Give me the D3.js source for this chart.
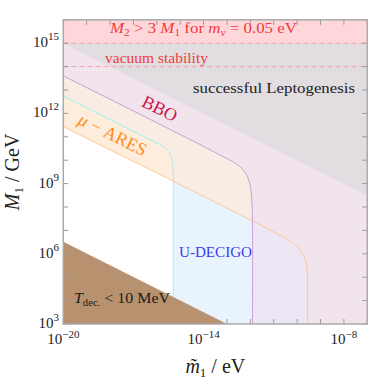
<!DOCTYPE html>
<html><head><meta charset="utf-8">
<script src="https://cdn.jsdelivr.net/npm/d3@7"></script>
<style>
html,body{margin:0;padding:0;background:#fff;}
svg{display:block;font-family:"Liberation Serif","Times New Roman",serif;}
</style></head>
<body><svg id="c" width="374" height="382"></svg>
<script>
// ---- data ----
const xDomain = [1e-20, 1e-7];
const yDomain = [1e3, 1e16];
const xTickLabels = [{v:1e-20, e:"−20"}, {v:1e-14, e:"−14"}, {v:1e-8, e:"−8"}];
const yTickLabels = [{v:1e3, e:"3"}, {v:1e6, e:"6"}, {v:1e9, e:"9"}, {v:1e12, e:"12"}, {v:1e15, e:"15"}];

// detector sensitivity boundaries: m1tilde [eV], M1 [GeV]
const bboM     = [1e-20, 6.9e-15, 8.1e-14, 2.95e-13, 6.5e-13, 9.5e-13, 1.15e-12, 1.23e-12, 1.23e-12];
const bboMass  = [4.0e13, 4.7e10, 1.3e10, 6.2e9, 2.6e9, 9.5e8, 2.0e8, 1.05e7, 1e3];
const aresM    = [1e-20, 6.8e-12, 6.6e-11, 1.45e-10, 2.25e-10, 2.7e-10, 2.75e-10, 2.75e-10];
const aresMass = [2.7e11, 1.05e7, 2.9e6, 1.3e6, 5.5e5, 1.65e5, 2.8e4, 1e3];
const udM      = [1e-20, 5.0e-17, 1.66e-16, 3.2e-16, 4.5e-16, 5.0e-16, 5.0e-16, 5.0e-16];
const udMass   = [5.5e12, 7.6e10, 4.1e10, 2.35e10, 1.0e10, 3.2e9, 2e8, 1e3];
// successful leptogenesis lower edge
const leptoM    = [1e-20, 1e-7];
const leptoMass = [1e15, 3.2e8];
// T_dec < 10 MeV upper edge
const tdecM    = [1e-20, 1e-13];
const tdecMass = [3.3e6, 1e3];
// horizontal limits
const m2Limit = 1e15;      // M2 > 3 M1
const vacLimit = 1e14;     // vacuum stability

// ---- layout ----
const svg = d3.select("#c");
const L = 63.3, R = 367.3, T = 19.8, B = 324;
const x = d3.scaleLog().domain(xDomain).range([L, R]);
const y = d3.scaleLog().domain(yDomain).range([B, T]);

const defs = svg.append("defs");
defs.append("clipPath").attr("id","plot").append("rect")
  .attr("x",L).attr("y",T).attr("width",R-L).attr("height",B-T);

const curveLine = d3.line().x(d=>x(d[0])).y(d=>y(d[1])).curve(d3.curveCatmullRom.alpha(0.5));
const straight = d3.line().x(d=>x(d[0])).y(d=>y(d[1]));
const zip = (a,b)=>a.map((v,i)=>[v,b[i]]);

function regionUpperRight(pts){
  return curveLine(pts) + "L" + x(xDomain[1]) + "," + y(yDomain[0]) +
    "L" + x(xDomain[1]) + "," + y(yDomain[1]) + "L" + x(xDomain[0]) + "," + y(yDomain[1]) + "Z";
}
const bboPts = zip(bboM, bboMass), aresPts = zip(aresM, aresMass), udPts = zip(udM, udMass);
const regU = regionUpperRight(udPts), regA = regionUpperRight(aresPts), regB = regionUpperRight(bboPts);
defs.append("clipPath").attr("id","clipU").append("path").attr("d", regU);
defs.append("clipPath").attr("id","clipA").append("path").attr("d", regA);

const g = svg.append("g").attr("clip-path","url(#plot)");
g.append("path").attr("d", regU).attr("fill","#e8f3fe");
g.append("path").attr("d", regA).attr("fill","#feeddd");
g.append("g").attr("clip-path","url(#clipU)").append("path").attr("d", regA).attr("fill","#f8ede4");
g.append("path").attr("d", regB).attr("fill","#ede6f4");
g.append("g").attr("clip-path","url(#clipA)").append("path").attr("d", regB).attr("fill","#f2e4ec");

const lp = zip(leptoM, leptoMass);
g.append("path").attr("d", straight(lp) + "L" + x(xDomain[1]) + "," + y(yDomain[1]) + "L" + x(xDomain[0]) + "," + y(yDomain[1]) + "Z")
  .attr("fill","#e1dde0");

g.append("path").attr("d", curveLine(udPts)).attr("fill","none").attr("stroke","#a6ece6").attr("stroke-width",1);
g.append("path").attr("d", curveLine(aresPts)).attr("fill","none").attr("stroke","#fcc99a").attr("stroke-width",1);
g.append("path").attr("d", curveLine(bboPts)).attr("fill","none").attr("stroke","#c9a0d2").attr("stroke-width",1);

const tp = zip(tdecM, tdecMass);
g.append("path").attr("d", straight(tp) + "L" + x(xDomain[0]) + "," + y(yDomain[0]) + "Z").attr("fill","#b8916f");

g.append("rect").attr("x",L).attr("y",y(yDomain[1])).attr("width",R-L).attr("height",y(m2Limit)-y(yDomain[1])).attr("fill","#ffd6d9");
[m2Limit, vacLimit].forEach(v=>{
  g.append("line").attr("x1",L).attr("x2",R).attr("y1",y(v)).attr("y2",y(v))
   .attr("stroke","#f2a2aa").attr("stroke-width",1).attr("stroke-dasharray","5,3");
});

// frame & ticks
const decX = d3.range(-20,-6).map(e=>Math.pow(10,e));
const decY = d3.range(3,17).map(e=>Math.pow(10,e));
const tk = 5, tc = "#9a9a9a";
decX.forEach(v=>{
  svg.append("line").attr("x1",x(v)).attr("x2",x(v)).attr("y1",B).attr("y2",B-tk).attr("stroke",tc);
  svg.append("line").attr("x1",x(v)).attr("x2",x(v)).attr("y1",T).attr("y2",T+tk).attr("stroke",tc);
});
decY.forEach(v=>{
  svg.append("line").attr("y1",y(v)).attr("y2",y(v)).attr("x1",L).attr("x2",L+tk).attr("stroke",tc);
  svg.append("line").attr("y1",y(v)).attr("y2",y(v)).attr("x1",R).attr("x2",R-tk).attr("stroke",tc);
});
svg.append("rect").attr("x",L).attr("y",T).attr("width",R-L).attr("height",B-T)
  .attr("fill","none").attr("stroke","#aaaaaa").attr("stroke-width",1.5);

// tick labels
yTickLabels.forEach(d=>{
  const t = svg.append("text").attr("x",59).attr("y",y(d.v)+4).attr("text-anchor","end").attr("font-size",15).attr("fill","#222");
  t.append("tspan").text("10");
  t.append("tspan").attr("dy",-7).attr("font-size",11).text(d.e);
});
xTickLabels.forEach(d=>{
  const t = svg.append("text").attr("x",x(d.v)).attr("y",344).attr("text-anchor","middle").attr("font-size",15).attr("fill","#222");
  t.append("tspan").text("10");
  t.append("tspan").attr("dy",-6).attr("font-size",11).text(d.e);
});

// axis titles
const xt = svg.append("text").attr("x",(L+R)/2).attr("y",373).attr("text-anchor","middle").attr("font-size",20).attr("fill","#222");
xt.append("tspan").attr("font-style","italic").text("m\u0303");
xt.append("tspan").attr("dy",4).attr("font-size",13).text("1");
xt.append("tspan").attr("dy",-4).text(" / eV");
const yt = svg.append("text").attr("transform",`translate(19,${(T+B)/2}) rotate(-90)`).attr("text-anchor","middle").attr("font-size",20).attr("fill","#222");
yt.append("tspan").attr("font-style","italic").text("M");
yt.append("tspan").attr("dy",4).attr("font-size",13).text("1");
yt.append("tspan").attr("dy",-4).text(" / GeV");

// annotations
const red = "#f03c3c";
const t1 = svg.append("text").attr("x",110).attr("y",33).attr("font-size",15).attr("fill",red)
  .attr("textLength",187).attr("lengthAdjust","spacingAndGlyphs");
t1.append("tspan").attr("font-style","italic").text("M");
t1.append("tspan").attr("dy",3).attr("font-size",10).text("2");
t1.append("tspan").attr("dy",-3).text(" > 3 ");
t1.append("tspan").attr("font-style","italic").text("M");
t1.append("tspan").attr("dy",3).attr("font-size",10).text("1");
t1.append("tspan").attr("dy",-3).text(" for ");
t1.append("tspan").attr("font-style","italic").text("m");
t1.append("tspan").attr("dy",3).attr("font-size",10).attr("font-style","italic").text("ν");
t1.append("tspan").attr("dy",-3).text(" = 0.05 eV");

svg.append("text").attr("x",105).attr("y",63).attr("font-size",14).attr("fill",red)
  .attr("textLength",103).attr("lengthAdjust","spacingAndGlyphs").text("vacuum stability");
svg.append("text").attr("x",193).attr("y",93).attr("font-size",15).attr("fill","#222")
  .attr("textLength",162).attr("lengthAdjust","spacingAndGlyphs").text("successful Leptogenesis");

const ang = Math.atan(0.5)*180/Math.PI;
svg.append("text").attr("transform",`translate(157,114) rotate(${ang})`).attr("text-anchor","middle")
  .attr("font-size",18).attr("fill","#c8184a").text("BBO");
const ar = svg.append("text").attr("transform",`translate(110,140) rotate(${ang})`).attr("text-anchor","middle")
  .attr("font-size",18).attr("fill","#ff8c1a");
ar.append("tspan").attr("font-style","italic").text("μ");
ar.append("tspan").text(" − ARES");

svg.append("text").attr("x",179).attr("y",257).attr("font-size",14).attr("fill","#3c3cf0")
  .attr("textLength",73).attr("lengthAdjust","spacingAndGlyphs").text("U-DECIGO");

const td = svg.append("text").attr("x",74).attr("y",303).attr("font-size",15).attr("fill","#1a1a1a")
  .attr("textLength",96).attr("lengthAdjust","spacingAndGlyphs");
td.append("tspan").attr("font-style","italic").text("T");
td.append("tspan").attr("dy",3).attr("font-size",10).text("dec.");
td.append("tspan").attr("dy",-3).text(" < 10 MeV");
</script></body></html>
